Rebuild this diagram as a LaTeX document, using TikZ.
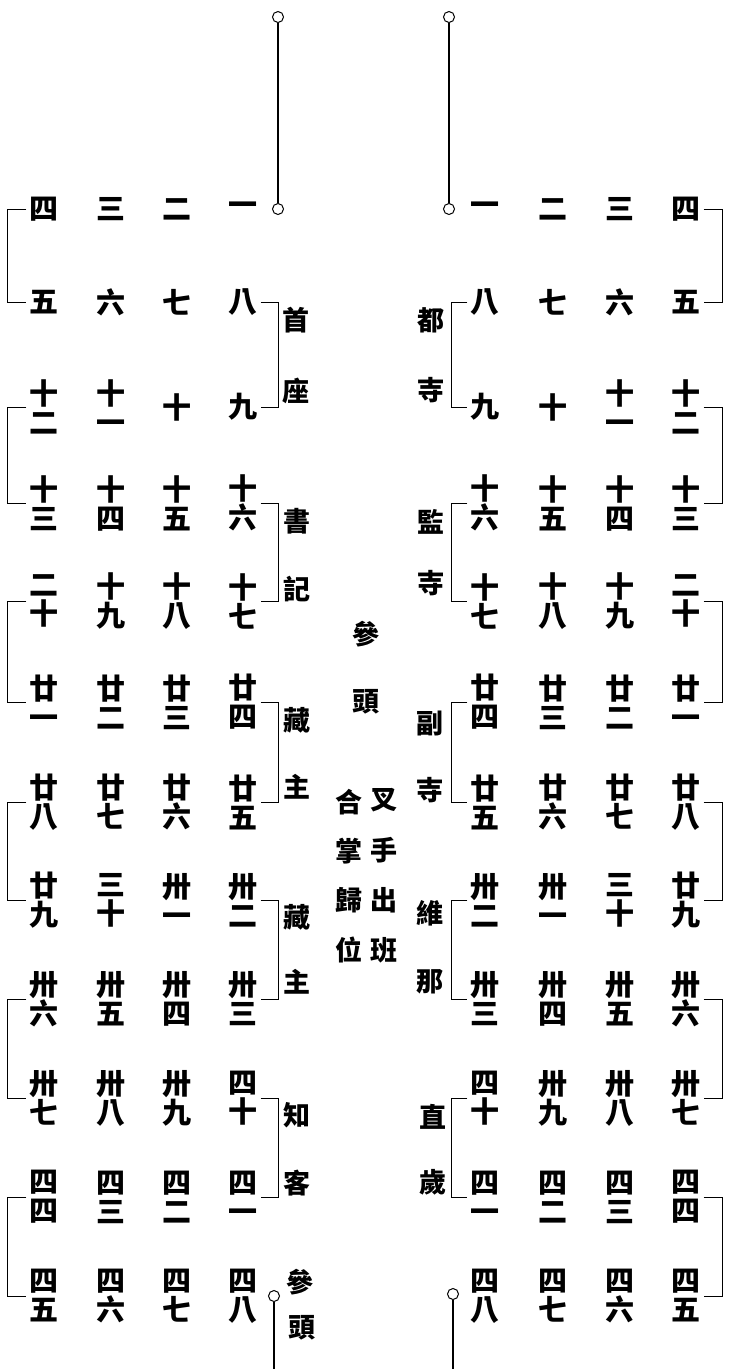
\documentclass[tikz,border=0pt]{standalone}
\usepackage{fontspec}
\newfontfamily\cjk{Noto Sans CJK TC}
\newcommand\numfont{\cjk\bfseries\fontsize{29}{29}\selectfont}
\newcommand\labfont{\cjk\bfseries\fontsize{27}{30}\selectfont}
\begin{document}
\begin{tikzpicture}[x=1pt,y=-1pt,
  num/.style={font=\numfont, inner sep=0pt, minimum width=28pt, minimum height=28pt, align=center},
  lab/.style={font=\labfont, inner sep=0pt},
  brk/.style={line width=0.9pt},
  ring/.style={circle, draw, fill=white, line width=1pt, minimum size=11pt, inner sep=0pt},
  stem/.style={line width=1.4pt}]
\useasboundingbox (0,0) rectangle (740,1369);
\fill[white] (0,0) rectangle (740,1369);

% number grid (left block mirrored in right block)
\foreach \r/\y/\a/\b/\c/\d in {
  1/209/四/三/二/一,
  2/302/五/六/七/八,
  3/407/{十\\二}/{十\\一}/十/九,
  4/503/{十\\三}/{十\\四}/{十\\五}/{十\\六},
  5/601/{二\\十}/{十\\九}/{十\\八}/{十\\七},
  6/702/{廿\\一}/{廿\\二}/{廿\\三}/{廿\\四},
  7/802/{廿\\八}/{廿\\七}/{廿\\六}/{廿\\五},
  8/900/{廿\\九}/{三\\十}/{卅\\一}/{卅\\二},
  9/999/{卅\\六}/{卅\\五}/{卅\\四}/{卅\\三},
  10/1098/{卅\\七}/{卅\\八}/{卅\\九}/{四\\十},
  11/1197/{四\\四}/{四\\三}/{四\\二}/{四\\一},
  12/1296/{四\\五}/{四\\六}/{四\\七}/{四\\八}}
{
  \node[num] (La\r) at (44,\y) {\a};
  \node[num] (Lb\r) at (111,\y) {\b};
  \node[num] (Lc\r) at (177,\y) {\c};
  \node[num] (Ld\r) at (243,\y) {\d};
  \node[num] (Rd\r) at (485,\y) {\d};
  \node[num] (Rc\r) at (553,\y) {\c};
  \node[num] (Rb\r) at (620,\y) {\b};
  \node[num] (Ra\r) at (686,\y) {\a};
}

% outer brackets
\foreach \i/\j in {1/2,3/4,5/6,7/8,9/10,11/12}{
  \draw[brk] ([xshift=-3pt]La\i.west) -- ++(-19,0) |- ([xshift=-3pt]La\j.west);
  \draw[brk] ([xshift=3pt]Ra\i.east) -- ++(19,0) |- ([xshift=3pt]Ra\j.east);
}
% inner brackets
\foreach \i/\j in {2/3,4/5,6/7,8/9,10/11}{
  \draw[brk] ([xshift=3pt]Ld\i.east) -- ++(18,0) |- ([xshift=3pt]Ld\j.east);
  \draw[brk] ([xshift=-3pt]Rd\i.west) -- ++(-16,0) |- ([xshift=-3pt]Rd\j.west);
}

% stems with rings
\node[ring] (tl) at (278,17) {};
\node[ring] (ml) at (278,209) {};
\draw[stem] (tl) -- (ml);
\node[ring] (tr) at (449,17) {};
\node[ring] (mr) at (449,209) {};
\draw[stem] (tr) -- (mr);
\node[ring] (pl) at (274,1296) {};
\coordinate (ple) at (274,1369);
\draw[stem] (pl) -- (ple);
\node[ring] (pr) at (453,1294) {};
\coordinate (pre) at (453,1369);
\draw[stem] (pr) -- (pre);

% left labels
\node[lab] (l1) at (296,320) {首};
\node[lab] (l2) at (296,391) {座};
\node[lab] (l3) at (297,521) {書};
\node[lab] (l4) at (297,589) {記};
\node[lab] (l5) at (297,720) {藏};
\node[lab] (l6) at (297,787) {主};
\node[lab] (l7) at (297,917) {藏};
\node[lab] (l8) at (297,982) {主};
\node[lab] (l9) at (297,1115) {知};
\node[lab] (l10) at (297,1183) {客};
\node[lab] (l11) at (300,1282) {參};
\node[lab] (l12) at (302,1328) {頭};
% right labels
\node[lab] (r1) at (431,320) {都};
\node[lab] (r2) at (431,390) {寺};
\node[lab] (r3) at (431,522) {監};
\node[lab] (r4) at (431,583) {寺};
\node[lab] (r5) at (430,723) {副};
\node[lab] (r6) at (430,790) {寺};
\node[lab] (r7) at (430,913) {維};
\node[lab] (r8) at (430,982) {那};
\node[lab] (r9) at (433,1117) {直};
\node[lab] (r10) at (433,1182) {歲};
% centre
\node[lab] (c1) at (366,634) {參};
\node[lab] (c2) at (366,702) {頭};
\node[lab] (c3) at (349,802) {合};
\node[lab] (c4) at (349,851) {掌};
\node[lab] (c5) at (349,900) {歸};
\node[lab] (c6) at (349,950) {位};
\node[lab] (c7) at (384,800) {叉};
\node[lab] (c8) at (384,850) {手};
\node[lab] (c9) at (384,900) {出};
\node[lab] (c10) at (384,950) {班};
\end{tikzpicture}
\end{document}
